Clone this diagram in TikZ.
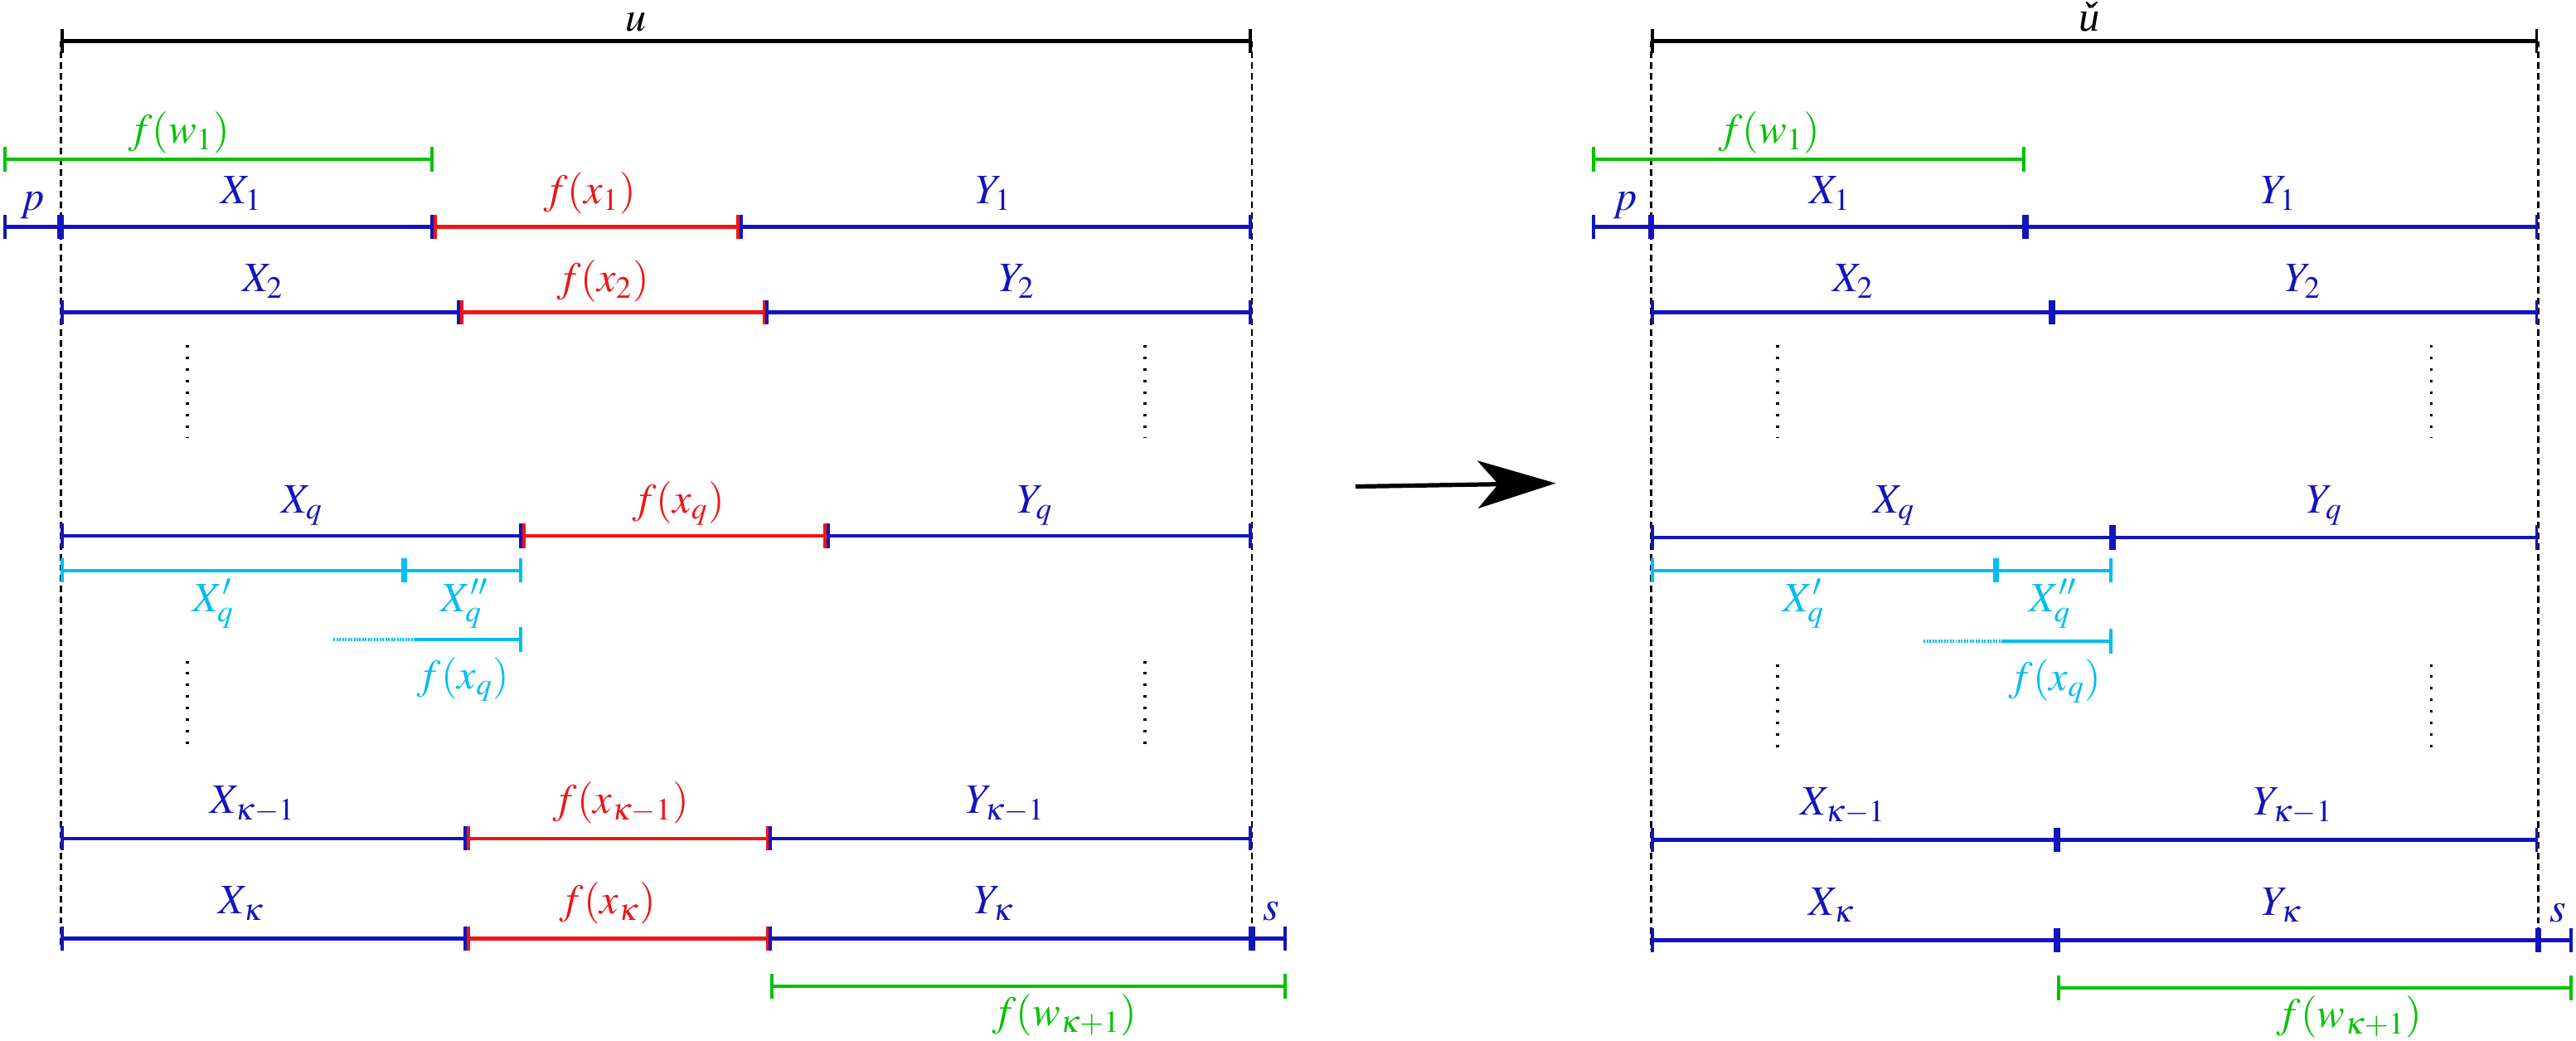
\documentclass[tikz,border=0pt]{standalone}
\usepackage{mathptmx}
\usepackage{fontspec}
\setmainfont{Liberation Serif}
\usetikzlibrary{arrows.meta}
\definecolor{cblue}{RGB}{20,20,190}
\definecolor{cred}{RGB}{240,20,20}
\definecolor{cgreen}{RGB}{0,195,0}
\definecolor{ccyan}{RGB}{0,190,240}
\begin{document}
\begin{tikzpicture}[x=0.02cm,y=-0.02cm,
  seg/.style={line width=1.2pt,{Bar[width=0.3cm,line width=1.1pt]}-{Bar[width=0.3cm,line width=1.1pt]}},
  rseg/.style={line width=1.2pt,-{Bar[width=0.3cm,line width=1.1pt]}},
  lab/.style={anchor=base,font=\fontsize{14.5}{17}\selectfont,inner sep=0pt},
  guide/.style={black,line width=0.7pt,dash pattern=on 0.08cm off 0.05cm},
  vdotsline/.style={black,line width=1pt,dash pattern=on 0.03cm off 0.11cm},
  fine/.style={line width=1.2pt,dash pattern=on 0.02cm off 0.015cm}]
\useasboundingbox (0,0) rectangle (1568,633);

% ================= LEFT PANEL =================
\draw[guide] (37,25) -- (37,577);
\draw[guide] (762,25) -- (762,577);
\draw[seg,black] (37,25) -- (762,25);
\node[lab,black] (lu) at (387,19) {$u$};

% f(w_1)
\draw[seg,cgreen] (2,97) -- (264,97);
\node[lab,cgreen] (lfw1) at (109,87) {$f(w_1)$};

% row 1
\draw[seg,cblue] (2,138) -- (37,138);
\draw[seg,cblue] (37,138) -- (264,138);
\draw[seg,cred] (264,138) -- (450,138);
\draw[seg,cblue] (450,138) -- (762,138);
\node[lab,cblue] (lp) at (20,128) {$p$};
\node[lab,cblue] (lX1) at (147,124) {$X_1$};
\node[lab,cred] (lf1) at (359,124) {$f(x_1)$};
\node[lab,cblue] (lY1) at (605,124) {$Y_1$};

% row 2
\draw[seg,cblue] (37,190) -- (280,190);
\draw[seg,cred] (280,190) -- (466,190);
\draw[seg,cblue] (466,190) -- (762,190);
\node[lab,cblue] (lX2) at (160,177.5) {$X_2$};
\node[lab,cred] (lf2) at (367,177.5) {$f(x_2)$};
\node[lab,cblue] (lY2) at (619,177.5) {$Y_2$};

% dots
\draw[vdotsline] (114,210) -- (114,266);
\draw[vdotsline] (697,210) -- (697,266);

% row q
\draw[seg,cblue] (37,326) -- (318,326);
\draw[seg,cred] (318,326) -- (503,326);
\draw[seg,cblue] (503,326) -- (762,326);
\node[lab,cblue] (lXq) at (184,312) {$X_q$};
\node[lab,cred] (lfq) at (413,312) {$f(x_q)$};
\node[lab,cblue] (lYq) at (630,312) {$Y_q$};

% cyan split
\draw[seg,ccyan] (37,347) -- (246,347);
\draw[seg,ccyan] (246,347) -- (318,347);
\node[lab,ccyan] (lXqp) at (130,372) {$X'_q$};
\node[lab,ccyan] (lXqpp) at (283,372) {$X''_q$};
\draw[fine,ccyan] (203,389) -- (252,389);
\draw[rseg,ccyan] (252,389) -- (318,389);
\node[lab,ccyan] (lfqc) at (282,419) {$f(x_q)$};

% dots
\draw[vdotsline] (114,402) -- (114,456);
\draw[vdotsline] (697,402) -- (697,456);

% row kappa-1
\draw[seg,cblue] (37,510) -- (284,510);
\draw[seg,cred] (284,510) -- (468,510);
\draw[seg,cblue] (468,510) -- (762,510);
\node[lab,cblue] (lXk1) at (154,495) {$X_{\kappa-1}$};
\node[lab,cred] (lfk1) at (378,495) {$f(x_{\kappa-1})$};
\node[lab,cblue] (lYk1) at (612,495) {$Y_{\kappa-1}$};

% row kappa
\draw[seg,cblue] (37,571) -- (284,571);
\draw[seg,cred] (284,571) -- (468,571);
\draw[seg,cblue] (468,571) -- (762,571);
\draw[seg,cblue] (762,571) -- (783,571);
\node[lab,cblue] (lXk) at (147,556) {$X_\kappa$};
\node[lab,cred] (lfk) at (370,556) {$f(x_\kappa)$};
\node[lab,cblue] (lYk) at (605,556) {$Y_\kappa$};
\node[lab,cblue] (ls) at (774,560) {$s$};

% f(w_{kappa+1})
\draw[seg,cgreen] (469,600) -- (783,600);
\node[lab,cgreen] (lfwk) at (648,624) {$f(w_{\kappa+1})$};

% ================= ARROW =================
\coordinate (aS) at (825,296);
\coordinate (aE) at (947,294);
\draw[black,line width=1.5pt,-{Stealth[length=0.95cm,width=0.58cm,inset=0.25cm]}] (aS) -- (aE);

% ================= RIGHT PANEL =================
\draw[guide] (1005,25) -- (1005,578);
\draw[guide] (1545,25) -- (1545,578);
\draw[seg,black] (1005,25) -- (1545,25);
\node[lab,black] (ru) at (1272,19) {\textit{ǔ}};

\draw[seg,cgreen] (969,97) -- (1233,97);
\node[lab,cgreen] (rfw1) at (1077,87) {$f(w_1)$};

% row 1
\draw[seg,cblue] (969,138) -- (1005,138);
\draw[seg,cblue] (1005,138) -- (1233,138);
\draw[seg,cblue] (1233,138) -- (1545,138);
\node[lab,cblue] (rp) at (989,128) {$p$};
\node[lab,cblue] (rX1) at (1114,124) {$X_1$};
\node[lab,cblue] (rY1) at (1387,124) {$Y_1$};

% row 2
\draw[seg,cblue] (1005,190) -- (1249,190);
\draw[seg,cblue] (1249,190) -- (1545,190);
\node[lab,cblue] (rX2) at (1128,177.5) {$X_2$};
\node[lab,cblue] (rY2) at (1402,177.5) {$Y_2$};

\draw[vdotsline] (1082,210) -- (1082,266);
\draw[vdotsline] (1480,210) -- (1480,266);

% row q
\draw[seg,cblue] (1005,327) -- (1286,327);
\draw[seg,cblue] (1286,327) -- (1545,327);
\node[lab,cblue] (rXq) at (1153,312) {$X_q$};
\node[lab,cblue] (rYq) at (1415,312) {$Y_q$};

\draw[seg,ccyan] (1005,347) -- (1215,347);
\draw[seg,ccyan] (1215,347) -- (1286,347);
\node[lab,ccyan] (rXqp) at (1098,372) {$X'_q$};
\node[lab,ccyan] (rXqpp) at (1250,372) {$X''_q$};
\draw[fine,ccyan] (1171,390) -- (1219,390);
\draw[rseg,ccyan] (1219,390) -- (1286,390);
\node[lab,ccyan] (rfqc) at (1251,420) {$f(x_q)$};

\draw[vdotsline] (1082,404) -- (1082,457);
\draw[vdotsline] (1480,404) -- (1480,457);

% row kappa-1
\draw[seg,cblue] (1005,511) -- (1252,511);
\draw[seg,cblue] (1252,511) -- (1545,511);
\node[lab,cblue] (rXk1) at (1122,496) {$X_{\kappa-1}$};
\node[lab,cblue] (rYk1) at (1396,496) {$Y_{\kappa-1}$};

% row kappa
\draw[seg,cblue] (1005,572) -- (1252,572);
\draw[seg,cblue] (1252,572) -- (1545,572);
\draw[seg,cblue] (1545,572) -- (1566,572);
\node[lab,cblue] (rXk) at (1115,557) {$X_\kappa$};
\node[lab,cblue] (rYk) at (1389,557) {$Y_\kappa$};
\node[lab,cblue] (rs) at (1557,561) {$s$};

\draw[seg,cgreen] (1252,601) -- (1566,601);
\node[lab,cgreen] (rfwk) at (1430,625) {$f(w_{\kappa+1})$};
\end{tikzpicture}
\end{document}
